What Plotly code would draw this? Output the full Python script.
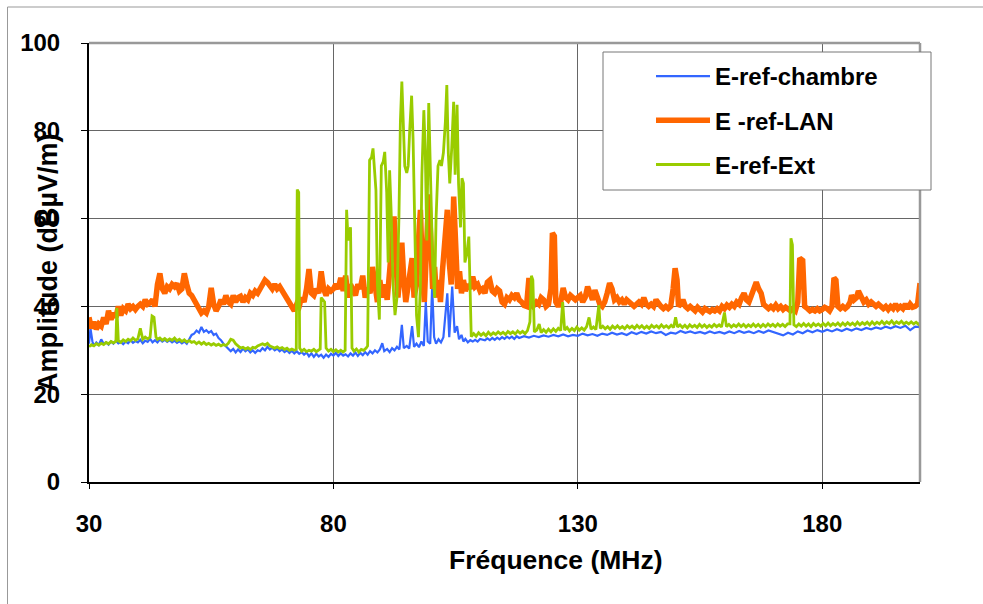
import plotly.graph_objects as go

# ---------------- data ----------------
chambre_pts = [
(30,31.5),(30.3,35),(30.7,32),(31,31),(31.5,31.8),(32,31.2),(32.5,32.5),(33,31.5),(33.5,31.8),(34,31.3),
(34.5,32),(35,31.5),(35.5,32.2),(36,31.6),(36.5,31.9),(37,31.4),(37.5,32),(38,31.6),(38.5,32.3),(39,31.7),
(39.5,32.1),(40,31.8),(40.5,32.4),(41,31.6),(41.5,32.2),(42,31.9),(42.5,32.6),(43,31.8),(43.5,32.3),(44,31.8),
(44.5,32.5),(45,32),(45.5,32.4),(46,31.9),(46.5,32.3),(47,31.8),(47.5,32.2),(48,31.7),(48.5,32.1),(49,31.6),
(49.5,32),(50,31.5),(50.5,32.5),(51,33.5),(51.5,33.8),(52,34.5),(52.5,34),(53,35.3),(53.5,34.2),(54,34.6),
(54.5,34),(55,34.4),(55.5,33.5),(56,33.8),(56.5,32.8),(57,32.3),(57.5,31.5),(58,31),(58.5,30.5),(59,29.8),
(59.5,30.3),(60,29.5),(60.5,30.2),(61,29.6),(61.5,30.4),(62,29.8),(62.5,30.2),(63,29.5),(63.5,30),(64,29.4),
(64.5,30),(65,29.8),(65.5,30.5),(66,30),(66.5,30.8),(67,30.2),(67.5,30.6),(68,30),(68.5,30.4),(69,29.8),
(69.5,30.2),(70,29.6),(70.5,30),(71,29.4),(71.5,29.9),(72,29.3),(72.5,29.8),(73,29.2),(73.5,29.6),(74,29),
(74.5,29.5),(75,28.6),(75.5,29.3),(76,28.5),(76.5,29.2),(77,28.6),(77.5,29),(78,28.3),(78.5,29),(79,28.5),
(79.5,29.2),(80,28.8),(80.5,29.4),(81,28.7),(81.5,29.3),(82,28.8),(82.5,29.1),(83,28.6),(83.5,29.3),(84,28.8),
(84.5,29.5),(85,28.7),(85.5,29.4),(86,28.9),(86.5,29.6),(87,29),(87.5,29.8),(88,29.3),(88.5,30),(89,29.5),
(89.5,30.2),(90,31.6),(90.4,29.8),(91,30.3),(91.5,29.6),(92,30.5),(92.5,30),(93,30.8),(93.5,30.2),(94,35.8),
(94.4,30.5),(95,31),(95.5,30.4),(96.1,35.5),(96.5,30.8),(97,31.5),(97.5,30.7),(98,32),(98.5,31),(98.9,41),
(99.3,32),(99.8,31.5),(100.2,44.5),(100.6,33),(101,31.5),(101.5,32.5),(102,31.8),(102.5,33),(103.3,43),
(103.7,33),(104.3,44.5),(104.8,34),(105.3,35.5),(105.7,32.5),(106.2,33.5),(106.6,32),(107,32.6),(107.5,31.8),
(108,32.3),(108.5,32),(109,32.4),(109.5,32),(110,32.6),(111,32.3),(111.5,32.7),(112,32.3),(112.5,32.8),
(113,32.4),(113.5,32.9),(114,32.5),(114.5,33),(115,32.6),(115.5,33.1),(116,32.7),(116.5,33.1),(117,32.6),
(117.5,33.2),(118,32.8),(119,33.2),(120,32.9),(121,33.3),(122,33),(123,33.4),(124,33.1),(125,33.5),(126,33.2),
(127,33.6),(128,33.2),(129,33.5),(130,33.3),(131,33.8),(132,33.4),(133,33.7),(134,33.3),(135,33.8),(136,33.5),
(137,34),(138,33.6),(139,33.9),(140,33.5),(141,34.1),(142,33.7),(143,34.2),(144,33.8),(145,34.3),(146,33.9),
(147,34.2),(148,33.5),(149,34),(150,33.8),(151,34.4),(152,34),(153,34.3),(154,33.9),(155,34.2),(156,33.8),
(157,34.3),(158,33.9),(159,34.2),(160,33.8),(161,34.3),(162,33.9),(163,34.4),(164,34),(165,34.3),(166,33.9),
(167,34.4),(168,34),(169,34.5),(170,34.1),(171,33.7),(172,33.4),(173,34),(174,33.6),(175,34.3),(176,33.9),
(177,34.5),(178,34.1),(179,34.6),(180,34.2),(181,34.7),(182,34.3),(183,34.8),(184,34.4),(185,34.9),(186,34.5),
(187,35),(188,34.6),(189,35.1),(190,34.8),(191,35.2),(192,34.9),(193,35.4),(194,35),(195,35.5),(196,35.1),
(197,35.6),(198,34.6),(199,35.4),(200,35.3),
]

lan_pts = [
(30,37.5),(30.5,35),(31,36.5),(31.5,34.8),(32,36),(32.5,35.5),(33,37.5),(33.5,36),(34,39),(34.5,37),
(35,38.5),(35.5,37.5),(36,40),(36.5,38),(37,39.5),(37.5,39),(38,40.5),(38.5,39.5),(39,40),(39.5,39.3),
(40,40),(40.5,40.5),(41,40),(41.5,41.5),(42,40.5),(42.5,40.8),(43,41.5),(43.5,40),(44,45),(44.5,47.5),
(45,44),(45.5,43),(46,44.5),(46.5,44),(47,45),(47.5,44.5),(48,45.2),(48.5,43.5),(49,44),(49.5,47.5),
(50,45),(50.5,43),(51,42.5),(51.5,41.5),(52,40),(52.5,39.5),(53,38.5),(53.5,39),(54,38.5),(54.5,40),
(55,44.2),(55.5,40.5),(56,39),(56.5,40),(57,41.5),(57.5,40.5),(58,42.5),(58.5,41),(59,40.5),(59.5,42.5),
(60,41),(60.5,42),(61,42.3),(61.5,41),(62,42),(62.5,41.5),(63,43),(63.5,42.5),(64,43.5),(64.5,43),
(65,44),(65.5,44.5),(66,46),(66.5,45.5),(67,44.5),(67.5,44),(68,45),(68.5,44),(69,44.5),(69.5,43.5),
(70,43),(70.5,42),(71,41),(71.5,39.5),(72,39),(72.5,40.5),(73,40),(73.5,42),(74,41),(74.5,44),
(75,48.5),(75.5,43),(76,42.5),(76.5,44),(77,43),(77.5,48),(78,44),(78.5,42.5),(79,44),(79.5,43.5),
(80,44),(80.5,45),(81,44),(81.5,46.5),(82,43.5),(82.5,47),(83,42),(83.5,45),(84,44),(84.5,42.5),
(85,45),(85.5,44),(86,47),(86.5,42),(87,44),(87.5,43),(88,49),(88.5,44),(89,41),(89.5,46),
(90,42),(90.5,45),(91,41.5),(91.5,48),(92,58),(92.4,60.5),(92.8,50),(93.2,42),(93.6,47),(94,54.5),
(94.4,46),(94.8,41),(95.2,44),(95.6,48),(96.1,51),(96.5,42),(97,45),(97.4,55),(97.8,62),(98.2,48),
(98.6,41),(99,52),(99.5,65.5),(99.9,56),(100.3,44),(100.7,49),(101.1,42),(101.5,46),(101.9,41),(102.3,48),
(102.8,55),(103.3,62),(103.7,50),(104.1,45),(104.6,65),(105,55),(105.4,44),(105.8,48),(106.2,43),(106.6,46),
(107,43.5),(107.5,45),(108,44),(108.5,46.8),(109,44.5),(109.5,45),(110,43.5),(110.5,44),(111,43),(111.5,45.5),
(112,46),(112.5,43.5),(113,43),(113.5,44),(114,43.5),(114.5,41),(115,40.5),(115.5,42),(116,41.5),(116.5,42.5),
(117,42),(117.5,43),(118,41.5),(118.5,41),(119,40.2),(119.5,40),(120,46.5),(120.3,40.5),(120.8,40),(121.5,41),
(122,40.5),(122.5,42),(123,41.5),(123.5,40),(124,40.5),(124.5,44),(124.8,56.7),(125.2,56),(125.5,41),(126,40),
(126.5,41),(127,44.2),(127.5,42),(128,41.5),(128.5,42.5),(129,42),(129.5,41.5),(130,42),(130.5,42.5),(131,41),
(131.5,42),(132,44.5),(132.5,43),(133,41.5),(133.5,43.7),(134,42),(134.5,40.5),(135,40),(135.5,41),(136,43),
(136.5,45.3),(137,44),(137.5,41.5),(138,42),(138.5,41),(139,41.5),(139.5,40.5),(140,41.5),(140.5,41),(141,40.5),
(141.5,40),(142,40.5),(142.5,41),(143,40.5),(143.5,42),(144,40.5),(144.5,40),(145,40.5),(145.5,40),(146,41.5),
(146.5,40.5),(147,40),(147.5,39.5),(148,40),(148.5,39.5),(149,40),(149.5,44),(149.9,48.7),(150.3,46),(150.6,40),
(151,40.5),(151.5,41.5),(152,40),(152.5,39.5),(153,40),(153.5,39.5),(154,39),(154.5,39.8),(155,39),(155.5,38.7),
(156,39.5),(156.5,39),(157,38.8),(157.5,39.3),(158,39),(158.5,39.5),(159,39),(159.5,40),(160,39.5),(160.5,40.3),
(161,39.8),(161.5,40.5),(162,40),(162.5,41),(163,40.5),(163.5,42),(164,43),(164.5,41.5),(165,41),(165.5,42.5),
(166,44.5),(166.5,45.5),(167,44),(167.5,43),(168,40.5),(168.5,40),(169,39.5),(169.5,40),(170,39.5),(170.5,40.3),
(171,39.5),(171.5,40),(172,39.3),(172.5,39.8),(173,39.5),(173.5,39),(174,39.5),(174.5,39),(175,41),(175.4,51),
(176,50.5),(176.4,40),(177,39.5),(177.5,39),(178,39.3),(178.5,39),(179,39.5),(179.5,39),(180,39.3),(180.5,39.8),
(181,39.5),(181.5,39),(182,40),(182.4,46.5),(182.8,46),(183.2,40),(183.7,39.5),(184.2,40),(184.7,39.5),(185.2,40),
(185.7,41),(186,42.5),(186.5,41.5),(187,42),(187.4,43.5),(188,42),(188.5,41),(189,41.5),(189.5,40.5),(190,41),
(190.5,40.5),(191,40),(191.5,40.5),(192,40),(192.5,39.5),(193,40),(193.5,39.3),(194,40),(194.5,39.5),(195,40.5),
(195.5,39.5),(196,40),(196.5,39.5),(197,40.5),(197.5,39.5),(198,40.5),(198.5,39.8),(199,40),(199.5,40.5),(200,45.3),
]

ext_pts = [
(30,30.8),(30.5,31.3),(31,31),(31.5,31.5),(32,31.2),(32.5,31.6),(33,31.3),(33.5,31.8),(34,31.5),(34.5,32),
(35,31.7),(35.5,32),(35.7,39.6),(36,32.2),(36.5,31.8),(37,32.4),(37.5,32),(38,32.5),(38.5,32.2),(39,32.8),
(39.5,32.3),(40,32.6),(40.5,35),(41,32.5),(41.5,33),(42,32.6),(42.5,33),(42.9,37.8),(43.3,37.5),(43.7,33),
(44,32.5),(44.5,32.8),(45,32.3),(45.5,32.7),(46,32.2),(46.5,32.6),(47,32.3),(47.5,32.8),(48,32.2),(48.5,32.5),
(49,32),(49.5,32.4),(50,31.9),(50.5,32.2),(51,31.8),(51.5,32),(52,31.5),(52.5,31.9),(53,31.4),(53.5,31.8),
(54,31.3),(54.5,31.6),(55,31.2),(55.5,31.5),(56,31.1),(56.5,31.4),(57,31),(57.5,31.3),(58,31.1),(58.5,31.6),
(59,32.5),(59.5,32.3),(60,31.5),(60.5,31),(61,30.5),(61.5,30.7),(62,30.3),(62.5,30.6),(63,30.2),(63.5,30.7),
(64,30.5),(64.5,31),(65,31.3),(65.5,31.5),(66,31.2),(66.5,31.6),(67,31),(67.5,30.8),(68,30.5),(68.5,30.8),
(69,30.4),(69.5,30.6),(70,30.2),(70.5,30.5),(71,30),(71.5,30.3),(72,30),(72.4,30.2),(72.6,66.6),(72.9,66),
(73.1,30.5),(73.5,29.8),(74,30.2),(74.5,29.7),(75,30),(75.5,29.8),(76,30.2),(76.5,29.7),(77,30),(77.3,30.3),
(77.5,42),(78.2,41),(78.5,30.5),(79,29.8),(79.5,30.2),(80,29.7),(80.5,30.1),(81,29.6),(81.5,30),(82,29.6),
(82.4,30),(82.7,62),(83,55),(83.5,58),(83.8,30.5),(84.2,29.8),(84.7,30.3),(85.2,29.6),(85.7,30.2),(86.2,30),
(86.7,30.5),(87,31),(87.4,73.3),(87.8,74),(88.1,76),(88.4,70),(88.7,66.5),(89,45),(89.4,37),(89.8,72),
(90.2,73),(90.5,75.2),(90.9,66),(91.2,50),(91.5,71),(91.8,62),(92.2,45),(92.6,38),(93,42),(93.4,60),
(93.7,82),(94,91.2),(94.3,80),(94.6,72),(95,70.4),(95.3,72),(95.6,80),(96,88),(96.3,78),(96.7,55),
(97,38),(97.4,33),(97.8,45),(98.1,70),(98.5,84.7),(98.8,75),(99.1,55),(99.5,86.3),(99.9,70),(100.3,50),
(100.7,42),(101,60),(101.4,72),(101.8,73.3),(102.1,72),(102.5,75),(102.9,82),(103.2,90.4),(103.5,75),(103.8,68),
(104.2,76),(104.6,86.6),(104.9,70),(105.3,85.9),(105.6,68),(106,58),(106.3,69.2),(106.6,68),(106.9,50),(107.3,52),
(107.7,55.9),(108,42),(108.2,33.1),(108.7,33.8),(109.2,33.2),(109.7,34),(110.2,33.4),(110.7,33.9),(111.2,33.3),(111.7,34.1),
(112.2,33.5),(112.7,34),(113.2,33.6),(113.7,34.2),(114.2,33.7),(114.7,34.1),(115.2,33.6),(115.7,34.3),(116.2,33.8),(116.7,34.2),
(117.2,33.7),(117.7,34.4),(118.2,33.9),(118.7,34.3),(119.2,33.8),(119.7,34.5),(120.2,36.5),(120.5,47),(120.8,46),(121.1,34.2),
(121.6,34.6),(122.1,36),(122.5,34),(123,34.7),(123.5,34.1),(124,34.8),(124.5,34.2),(125,34.9),(125.5,34.3),(126,35),
(126.5,34.5),(126.9,41),(127.3,34.6),(127.8,35.2),(128.3,34.4),(128.8,35),(129.3,34.5),(129.8,35.3),(130.3,34.6),(130.8,35.1),
(131.3,34.6),(131.8,35.4),(132.3,37.5),(132.7,34.8),(133.2,35.3),(133.7,34.7),(134.3,40.3),(134.6,35),(135.1,35.5),(135.6,34.9),
(136.1,35.4),(136.6,34.8),(137.1,35.5),(137.6,35),(138.1,35.6),(138.6,35),(139.1,35.4),(139.6,34.9),(140.1,35.6),(140.6,35.1),
(141.1,35.5),(141.6,35),(142.1,35.7),(142.6,35.1),(143.1,35.6),(143.6,35),(144.1,35.5),(144.6,35),(145.1,35.7),(145.6,35.2),
(146.1,35.6),(146.6,35.1),(147.1,35.8),(147.6,35.2),(148.1,35.6),(148.6,35.1),(149.1,35.7),(149.6,35.2),(150,37.5),(150.4,35.3),
(150.9,35.8),(151.4,35.2),(151.9,35.7),(152.4,35.1),(152.9,35.8),(153.4,35.3),(153.9,35.7),(154.4,35.2),(154.9,35.9),(155.4,35.3),
(155.9,35.8),(156.4,35.2),(156.9,35.7),(157.4,35.3),(157.9,35.9),(158.4,35.4),(158.9,35.8),(159.4,35.3),(160,38.6),(160.4,35.4),
(160.9,35.9),(161.4,35.3),(161.9,35.8),(162.4,35.4),(162.9,36),(163.4,35.4),(163.9,35.9),(164.4,35.3),(164.9,35.8),(165.4,35.4),
(165.9,36),(166.4,35.4),(166.9,35.9),(167.4,35.3),(167.9,35.9),(168.4,35.4),(168.9,36),(169.4,35.5),(169.9,35.9),(170.4,35.4),
(170.9,36),(171.4,35.5),(171.9,35.9),(172.4,35.4),(172.9,36),(173.4,36),(173.6,55.5),(173.9,54),(174.2,35.8),(174.7,35.4),
(175.2,36),(175.7,35.5),(176.2,36.1),(176.7,35.5),(177.2,36),(177.7,35.4),(178.2,36.1),(178.7,35.6),(179.2,36),(179.7,35.5),
(180.2,36.1),(180.7,35.6),(181.2,36.2),(181.7,35.6),(182.2,36.1),(182.7,35.7),(183.2,36.2),(183.7,35.6),(184.2,36.2),(184.7,35.7),
(185.2,36.3),(185.7,35.8),(186.2,36.2),(186.7,35.7),(187.2,36.4),(187.7,35.8),(188.2,36.3),(188.7,35.9),(189.2,36.4),(189.7,35.8),
(190.2,36.5),(190.7,35.9),(191.2,36.4),(191.7,36),(192.2,36.6),(192.7,36),(193.2,36.5),(193.7,36.1),(194.2,36.7),(194.7,36),
(195.2,36.5),(195.7,36.1),(196.2,36.6),(196.7,36),(197.2,36.4),(197.7,36),(198.2,36.5),(198.7,36),(199.2,36.4),(199.7,35.9),
(200,36.2),
]

series_names = ["E-ref-chambre", "E -ref-LAN", "E-ref-Ext"]
series_colors = ["#3366FF", "#FF6600", "#99CC00"]
series_widths = [2.2, 5.5, 2.8]
x_ticks = [30, 80, 130, 180]
y_ticks = [0, 20, 40, 60, 80, 100]

FONT = "Liberation Sans, Arial, sans-serif"

fig = go.Figure()
for i, pts in enumerate([chambre_pts, lan_pts, ext_pts]):
    fig.add_trace(go.Scatter(
        x=[p[0] for p in pts], y=[p[1] for p in pts], mode="lines",
        name="<b>" + series_names[i] + "</b>",
        line=dict(color=series_colors[i], width=series_widths[i]),
        legendgroup="g%d" % i,
    ))

L, R, T, B = 89, 63, 43, 122
W, H = 983, 604
pw, ph = W - L - R, H - T - B

def px(xp):
    return (xp - L) / pw

def py(yp):
    return (H - B - yp) / ph

fig.update_layout(
    width=W, height=H,
    margin=dict(l=L, r=R, t=T, b=B, pad=0),
    paper_bgcolor="white", plot_bgcolor="white",
    font=dict(family=FONT, color="black"),
    xaxis=dict(range=[30, 200], tickvals=x_ticks, ticktext=["<b>%d</b>" % v for v in x_ticks],
               showgrid=True, gridcolor="#666", gridwidth=1, zeroline=False,
               showline=True, linecolor="black", linewidth=2,
               ticks="outside", ticklen=5, tickcolor="black", tickwidth=1,
               tickfont=dict(size=24, family=FONT), ticklabelstandoff=14),
    yaxis=dict(range=[0, 100], tickvals=y_ticks, ticktext=["<b>%d</b>" % v for v in y_ticks],
               showgrid=True, gridcolor="#666", gridwidth=1, zeroline=False,
               showline=True, linecolor="black", linewidth=2,
               ticks="outside", ticklen=6, tickcolor="black", tickwidth=1,
               tickfont=dict(size=24, family=FONT), ticklabelstandoff=16),
    showlegend=True,
    legend=dict(x=px(651), y=py(54), xanchor="left", yanchor="top",
                bgcolor="rgba(0,0,0,0)", borderwidth=0,
                font=dict(size=24, family=FONT, color="black"),
                itemwidth=54, tracegroupgap=10),
    shapes=[
        dict(type="line", xref="paper", yref="paper", x0=0, x1=1, y0=1, y1=1,
             line=dict(color="#999", width=2.5), layer="above"),
        dict(type="line", xref="paper", yref="paper", x0=1, x1=1, y0=0, y1=1,
             line=dict(color="#999", width=2.5), layer="above"),
        dict(type="rect", xref="paper", yref="paper",
             x0=px(603), x1=px(931), y0=py(190), y1=py(52),
             line=dict(color="#777", width=1), fillcolor="white", layer="above"),
        dict(type="rect", xref="paper", yref="paper",
             x0=px(7.5), x1=px(990), y0=py(612), y1=py(7),
             line=dict(color="#999", width=1), fillcolor="rgba(0,0,0,0)", layer="above"),
    ],
    annotations=[
        dict(text="<b>Fréquence (MHz)</b>", xref="paper", yref="paper",
             x=px(556), y=py(560), xanchor="center", yanchor="middle",
             showarrow=False, font=dict(size=26.5, family=FONT)),
        dict(text="<b>Amplitude (dBµV/m)</b>", xref="paper", yref="paper",
             x=px(48), y=py(263), xanchor="center", yanchor="middle", textangle=-90,
             showarrow=False, font=dict(size=27, family=FONT)),
    ],
)

fig.write_html("out.html")
